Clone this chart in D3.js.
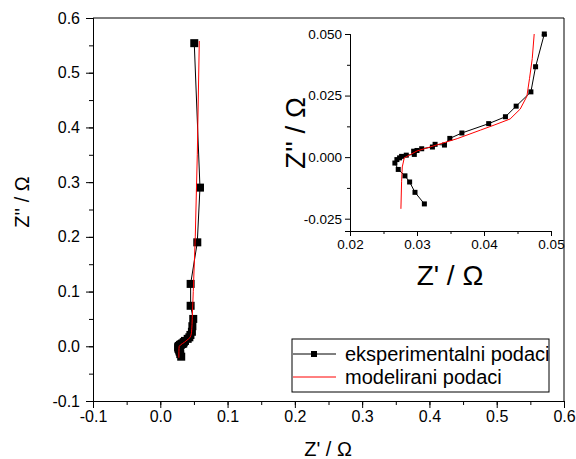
<!DOCTYPE html>
<html><head><meta charset="utf-8">
<script src="https://cdn.jsdelivr.net/npm/d3@7"></script>
<style>body{margin:0;background:#fff}svg{display:block;font-family:"Liberation Sans",Arial,sans-serif}</style>
</head><body><svg id="c" width="576" height="459"></svg>
<script>
const expX = [0.0311,0.0297,0.0289,0.0282,0.0272,0.0267,0.0270,0.0274,0.0277,0.0284,0.0296,0.0295,0.0300,0.0307,0.0323,0.0327,0.0341,0.0349,0.0367,0.0407,0.0432,0.0448,0.0470,0.0477,0.0490,0.0451,0.0451,0.0550,0.0590,0.0505];
const expY = [-0.0190,-0.0143,-0.0101,-0.0076,-0.0050,-0.0024,-0.0010,-0.0003,0.0003,0.0008,0.0011,0.0024,0.0027,0.0034,0.0041,0.0052,0.0049,0.0076,0.0098,0.0136,0.0164,0.0207,0.0265,0.0367,0.0500,0.074,0.114,0.190,0.290,0.554];
const modX = [0.0276,0.0277,0.0278,0.0281,0.0300,0.0330,0.0360,0.0395,0.0415,0.0439,0.0454,0.0464,0.0468,0.0472,0.0475,0.0490,0.0520,0.0550,0.0580];
const modY = [-0.0210,-0.0100,-0.0040,-0.0003,0.0025,0.0050,0.0075,0.0110,0.0130,0.0155,0.0195,0.0247,0.0320,0.0400,0.0503,0.100,0.200,0.350,0.558];
const mainTicks = [-0.1,0,0.1,0.2,0.3,0.4,0.5,0.6];
const insetXTicks = [0.02,0.03,0.04,0.05];
const insetYTicks = [-0.025,0,0.025,0.05];
const legendLabels = ["eksperimentalni podaci","modelirani podaci"];

const exp = expX.map((x,i)=>({x, y:expY[i]}));
const mod = modX.map((x,i)=>({x, y:modY[i]}));
const svg = d3.select("#c");
const fmt = p => { const f = d3.format(p); return d => f(d).replace("\u2212","-"); };

const x = d3.scaleLinear().domain([-0.1,0.6]).range([93,564]);
const y = d3.scaleLinear().domain([-0.1,0.6]).range([401,18]);
const minor = d3.range(-0.1,0.6001,0.05);

function axisStyle(g, fs){
  g.selectAll("path.domain").attr("stroke","#000").attr("stroke-width",1);
  g.selectAll("line").attr("stroke","#000");
  g.selectAll("text").attr("font-size",fs).attr("fill","#000").attr("font-family","'Liberation Sans',Arial,sans-serif");
}
svg.append("g").attr("transform","translate(0,401)")
  .call(d3.axisBottom(x).tickValues(minor).tickSize(4).tickFormat("")).call(g=>axisStyle(g,16));
svg.append("g").attr("transform","translate(0,401)")
  .call(d3.axisBottom(x).tickValues(mainTicks).tickSize(7).tickPadding(3).tickFormat(fmt(".1f"))).call(g=>axisStyle(g,16));
svg.append("g").attr("transform","translate(93,0)")
  .call(d3.axisLeft(y).tickValues(minor).tickSize(4).tickFormat("")).call(g=>axisStyle(g,16));
svg.append("g").attr("transform","translate(93,0)")
  .call(d3.axisLeft(y).tickValues(mainTicks).tickSize(7).tickPadding(6).tickFormat(fmt(".1f"))).call(g=>axisStyle(g,16));
svg.append("line").attr("x1",93).attr("x2",564).attr("y1",18).attr("y2",18).attr("stroke","#000");
svg.append("line").attr("x1",564).attr("x2",564).attr("y1",18).attr("y2",401).attr("stroke","#000");

svg.append("text").attr("x",328).attr("y",456).attr("text-anchor","middle").attr("font-size",20).text("Z' / Ω");
svg.append("text").attr("transform","translate(29,202) rotate(-90)").attr("text-anchor","middle").attr("font-size",20).text("Z'' / Ω");

const line = (sx,sy)=>d3.line().x(d=>sx(d.x)).y(d=>sy(d.y));
svg.append("path").datum(exp).attr("d",line(x,y)).attr("fill","none").attr("stroke","#000").attr("stroke-width",1);
svg.selectAll("rect.me").data(exp).join("rect").attr("class","me")
  .attr("x",d=>x(d.x)-4).attr("y",d=>y(d.y)-4).attr("width",8).attr("height",8).attr("fill","#000");
svg.append("path").datum(mod).attr("d",line(x,y)).attr("fill","none").attr("stroke","#f00").attr("stroke-width",1);

// inset
const ix = d3.scaleLinear().domain([0.02,0.05]).range([350,551]);
const iy = d3.scaleLinear().domain([-0.03,0.05]).range([231,34]);
svg.append("rect").attr("x",282).attr("y",25).attr("width",280).attr("height",265).attr("fill","#fff");
svg.append("g").attr("transform","translate(0,231)")
  .call(d3.axisBottom(ix).tickValues([0.025,0.035,0.045]).tickSize(3).tickFormat("")).call(g=>axisStyle(g,13.5));
svg.append("g").attr("transform","translate(0,231)")
  .call(d3.axisBottom(ix).tickValues(insetXTicks).tickSize(5).tickPadding(3).tickFormat(fmt(".2f"))).call(g=>axisStyle(g,13.5));
svg.append("g").attr("transform","translate(350,0)")
  .call(d3.axisLeft(iy).tickValues([-0.0125,0.0125,0.0375]).tickSize(3).tickFormat("")).call(g=>axisStyle(g,13.5));
svg.append("g").attr("transform","translate(350,0)")
  .call(d3.axisLeft(iy).tickValues(insetYTicks).tickSize(5).tickPadding(3).tickFormat(fmt(".3f"))).call(g=>axisStyle(g,13.5));

svg.append("defs").append("clipPath").attr("id","ic").append("rect").attr("x",350).attr("y",34).attr("width",201).attr("height",197);
const ig = svg.append("g").attr("clip-path","url(#ic)");
ig.append("path").datum(exp).attr("d",line(ix,iy)).attr("fill","none").attr("stroke","#000").attr("stroke-width",1);
ig.selectAll("rect").data(exp).join("rect")
  .attr("x",d=>ix(d.x)-2.5).attr("y",d=>iy(d.y)-2.5).attr("width",5).attr("height",5).attr("fill","#000");
ig.append("path").datum(mod).attr("d",line(ix,iy)).attr("fill","none").attr("stroke","#f00").attr("stroke-width",1);
// top experimental marker partly outside clip
svg.append("rect").datum(exp[24]).attr("x",d=>ix(d.x)-2.5).attr("y",d=>iy(d.y)-2.5).attr("width",5).attr("height",5).attr("fill","#000");

svg.append("text").attr("x",450).attr("y",285).attr("text-anchor","middle").attr("font-size",28).text("Z' / Ω");
svg.append("text").attr("transform","translate(305,133) rotate(-90)").attr("text-anchor","middle").attr("font-size",28).text("Z'' / Ω");

// legend
svg.append("rect").attr("x",292).attr("y",339).attr("width",257).attr("height",53).attr("fill","#fff").attr("stroke","#000").attr("stroke-width",1);
svg.append("line").attr("x1",293).attr("x2",336).attr("y1",354).attr("y2",354).attr("stroke","#000");
svg.append("rect").attr("x",311).attr("y",351).attr("width",6).attr("height",6).attr("fill","#000");
svg.append("line").attr("x1",293).attr("x2",336).attr("y1",377).attr("y2",377).attr("stroke","#f00");
svg.selectAll("text.lg").data(legendLabels).join("text").attr("class","lg")
  .attr("x",345).attr("y",(d,i)=>361+i*23).attr("font-size",20).text(d=>d);
</script></body></html>
